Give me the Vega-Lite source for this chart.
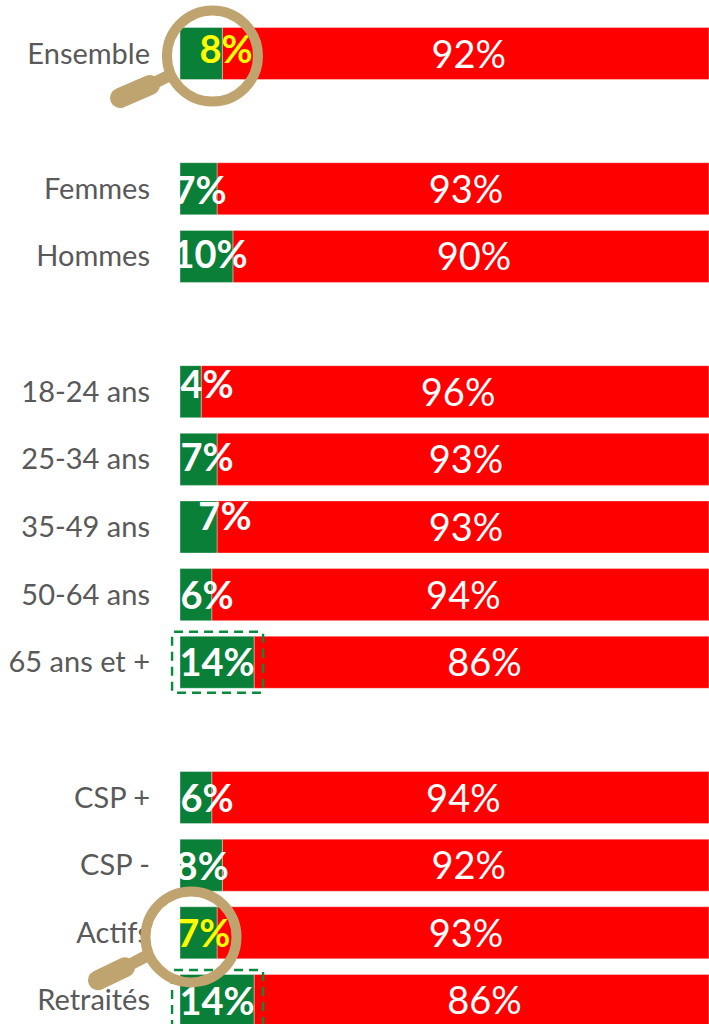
{"$schema":"https://vega.github.io/schema/vega-lite/v6.json","width":529,"height":1024,"autosize":{"type":"none"},"padding":{"left":180,"top":0,"right":0,"bottom":0},"background":"white","config":{"view":{"stroke":null}},"datasets":{"rows":[
{"group":"Ensemble","row":0,"base":0,"green":8,"red":92,"greenLabel":"8%","redLabel":"92%","labelAt":8.7,"labelRow":-0.04,"focus":true},
{"group":"Femmes","row":2,"base":0,"green":7,"red":93,"greenLabel":"7%","redLabel":"93%","labelAt":3.8,"labelRow":2.05,"focus":false},
{"group":"Hommes","row":3,"base":0,"green":10,"red":90,"greenLabel":"10%","redLabel":"90%","labelAt":5.7,"labelRow":3.0,"focus":false},
{"group":"18-24 ans","row":5,"base":0,"green":4,"red":96,"greenLabel":"4%","redLabel":"96%","labelAt":5.1,"labelRow":4.92,"focus":false},
{"group":"25-34 ans","row":6,"base":0,"green":7,"red":93,"greenLabel":"7%","redLabel":"93%","labelAt":5.1,"labelRow":6.0,"focus":false},
{"group":"35-49 ans","row":7,"base":0,"green":7,"red":93,"greenLabel":"7%","redLabel":"93%","labelAt":8.5,"labelRow":6.87,"focus":false},
{"group":"50-64 ans","row":8,"base":0,"green":6,"red":94,"greenLabel":"6%","redLabel":"94%","labelAt":5.1,"labelRow":8.03,"focus":false},
{"group":"65 ans et +","row":9,"base":0,"green":14,"red":86,"greenLabel":"14%","redLabel":"86%","labelAt":7.0,"labelRow":9.02,"focus":false},
{"group":"CSP +","row":11,"base":0,"green":6,"red":94,"greenLabel":"6%","redLabel":"94%","labelAt":5.1,"labelRow":11.03,"focus":false},
{"group":"CSP -","row":12,"base":0,"green":8,"red":92,"greenLabel":"8%","redLabel":"92%","labelAt":4.2,"labelRow":12.04,"focus":false},
{"group":"Actifs","row":13,"base":0,"green":7,"red":93,"greenLabel":"7%","redLabel":"93%","labelAt":4.5,"labelRow":13.03,"focus":true},
{"group":"Retraités","row":14,"base":0,"green":14,"red":86,"greenLabel":"14%","redLabel":"86%","labelAt":7.0,"labelRow":14.04,"focus":false}
],"frames":[{"x0":-1.5,"x1":15.7,"y0":8.55,"y1":9.45},{"x0":-1.5,"x1":15.7,"y0":13.55,"y1":14.45}],
"lenses":[{"x":6.14,"y":0.037},{"x":2.08,"y":13.06}],
"handles":[
{"part":"grip","x0":-11.34,"y0":0.658,"x1":-5.67,"y1":0.466},
{"part":"neck","x0":-5.67,"y0":0.466,"x1":-1.89,"y1":0.318},
{"part":"grip","x0":-15.5,"y0":13.70,"x1":-10.4,"y1":13.51},
{"part":"neck","x0":-10.4,"y0":13.51,"x1":-6.05,"y1":13.33}
]},
"resolve":{"scale":{"x":"shared","y":"shared"}},
"encoding":{"x":{"type":"quantitative","scale":{"domain":[0,100],"nice":false,"zero":false},"axis":null},"y":{"type":"quantitative","scale":{"domain":[-0.791,14.348],"reverse":true,"nice":false,"zero":false},"axis":null}},
"layer":[
{"data":{"name":"rows"},"transform":[{"calculate":"datum.row-0.385","as":"top"},{"calculate":"datum.row+0.385","as":"bottom"},{"calculate":"datum.green+datum.red","as":"total"}],"mark":{"type":"rect","color":"#FF0000","stroke":"#ffffff","strokeWidth":0.6,"strokeOpacity":0.6},"encoding":{"x":{"field":"green","type":"quantitative"},"x2":{"field":"total"},"y":{"field":"top","type":"quantitative"},"y2":{"field":"bottom"}}},
{"data":{"name":"rows"},"transform":[{"calculate":"datum.row-0.385","as":"top"},{"calculate":"datum.row+0.385","as":"bottom"}],"mark":{"type":"rect","color":"#0A7F37","stroke":"#ffffff","strokeWidth":0.6,"strokeOpacity":0.6},"encoding":{"x":{"field":"base","type":"quantitative"},"x2":{"field":"green"},"y":{"field":"top","type":"quantitative"},"y2":{"field":"bottom"}}},
{"data":{"name":"frames"},"mark":{"type":"rect","fillOpacity":0,"stroke":"#0A8A3C","strokeWidth":2.4,"strokeDash":[9,6],"cornerRadius":2},"encoding":{"x":{"field":"x0","type":"quantitative"},"x2":{"field":"x1"},"y":{"field":"y0","type":"quantitative"},"y2":{"field":"y1"}}},
{"data":{"name":"rows"},"mark":{"type":"text","align":"right","baseline":"middle","dx":-30,"dy":1,"font":"Lato","fontSize":29,"color":"#595959"},"encoding":{"x":{"field":"base","type":"quantitative"},"y":{"field":"row","type":"quantitative"},"text":{"field":"group"}}},
{"data":{"name":"rows"},"transform":[{"calculate":"datum.green+datum.red/2","as":"mid"}],"mark":{"type":"text","align":"center","baseline":"middle","dx":3,"dy":3,"font":"Lato","fontSize":38,"color":"#ffffff"},"encoding":{"x":{"field":"mid","type":"quantitative"},"y":{"field":"row","type":"quantitative"},"text":{"field":"redLabel"}}},
{"data":{"name":"rows"},"mark":{"type":"text","align":"center","baseline":"middle","clip":true,"dy":1,"font":"Lato","fontSize":38,"fontWeight":"bold"},"encoding":{"x":{"field":"labelAt","type":"quantitative"},"y":{"field":"labelRow","type":"quantitative"},"text":{"field":"greenLabel"},"color":{"condition":{"test":"datum.focus","value":"#FFFF00"},"value":"#ffffff"}}},
{"data":{"name":"handles"},"transform":[{"filter":"datum.part==='neck'"}],"mark":{"type":"rule","color":"#BFA46F","strokeWidth":12,"strokeCap":"butt"},"encoding":{"x":{"field":"x0","type":"quantitative"},"x2":{"field":"x1"},"y":{"field":"y0","type":"quantitative"},"y2":{"field":"y1"}}},
{"data":{"name":"handles"},"transform":[{"filter":"datum.part==='grip'"}],"mark":{"type":"rule","color":"#BFA46F","strokeWidth":20,"strokeCap":"round"},"encoding":{"x":{"field":"x0","type":"quantitative"},"x2":{"field":"x1"},"y":{"field":"y0","type":"quantitative"},"y2":{"field":"y1"}}},
{"data":{"name":"lenses"},"mark":{"type":"point","shape":"circle","filled":false,"size":8281,"stroke":"#BFA46F","strokeWidth":10,"opacity":1},"encoding":{"x":{"field":"x","type":"quantitative"},"y":{"field":"y","type":"quantitative"}}}
]}
